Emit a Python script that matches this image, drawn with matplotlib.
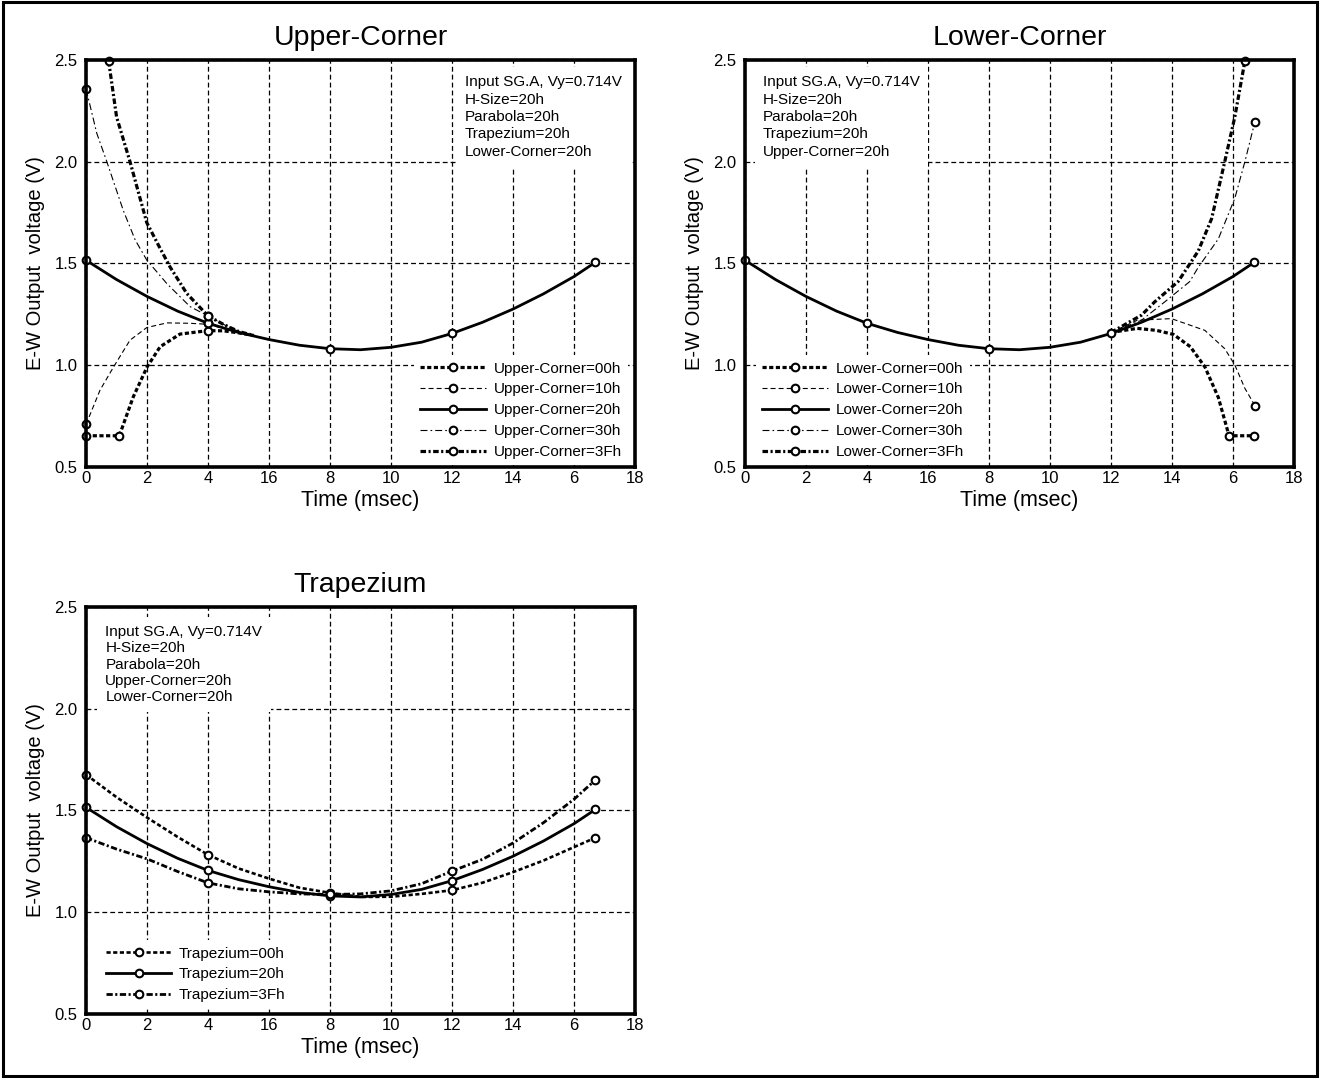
import numpy as np
import matplotlib.pyplot as plt
from matplotlib.lines import Line2D
from matplotlib.patches import Rectangle

plt.rcParams['font.family'] = ['Liberation Sans', 'DejaVu Sans']
plt.rcParams['lines.scale_dashes'] = False

# x ticks (labels as printed on the original)
xticks = [0, 2, 4, 6, 8, 10, 12, 14, 16, 18]
xticklabels = ['0', '2', '4', '16', '8', '10', '12', '14', '6', '18']
yticks = [0.5, 1.0, 1.5, 2.0, 2.5]

# shared curve: *=20h
x_20 = [0, 1, 2, 3, 4, 5, 6, 7, 8, 9, 10, 11, 12, 13, 14, 15, 16, 16.7]
v_20 = [1.515, 1.42, 1.337, 1.265, 1.205, 1.16, 1.125, 1.097, 1.08, 1.075,
        1.087, 1.112, 1.155, 1.21, 1.275, 1.35, 1.435, 1.505]
mx_20 = [0, 4, 8, 12, 16.7]
mv_20 = [1.515, 1.205, 1.08, 1.155, 1.505]

# Upper-Corner
up_x_00 = [0, 1.09, 1.3, 1.55, 2.0, 2.43, 3.08, 4, 4.5, 5.0, 5.5]
up_v_00 = [0.652, 0.652, 0.74, 0.844, 0.99, 1.09, 1.152, 1.169, 1.168, 1.158, 1.145]
up_mx_00 = [0, 1.09, 4]
up_mv_00 = [0.652, 0.652, 1.169]
up_x_10 = [0, 0.46, 0.9, 1.44, 1.99, 2.65, 3.41, 4, 4.5, 5, 5.5]
up_v_10 = [0.708, 0.877, 0.99, 1.122, 1.184, 1.207, 1.205, 1.2, 1.18, 1.16, 1.145]
up_mx_10 = [0, 4]
up_mv_10 = [0.708, 1.205]
up_x_30 = [0, 0.35, 0.68, 1.22, 1.61, 1.99, 2.65, 3.41, 4, 4.5, 5, 5.5]
up_v_30 = [2.357, 2.14, 2.0, 1.76, 1.615, 1.516, 1.40, 1.287, 1.241, 1.2, 1.165, 1.145]
up_mx_30 = [0, 4]
up_mv_30 = [2.357, 1.241]
up_x_3f = [0.74, 1.0, 1.44, 1.99, 2.37, 2.75, 3.3, 4, 4.5, 5, 5.5]
up_v_3f = [2.495, 2.22, 2.0, 1.70, 1.59, 1.483, 1.352, 1.241, 1.2, 1.165, 1.145]
up_mx_3f = [0.74, 4]
up_mv_3f = [2.495, 1.241]

# Lower-Corner
lo_x_00 = [12, 12.86, 13.5, 14.05, 14.6, 15.08, 15.52, 15.87, 16.7]
lo_v_00 = [1.16, 1.18, 1.17, 1.15, 1.09, 0.99, 0.84, 0.652, 0.652]
lo_mx_00 = [15.87, 16.7]
lo_mv_00 = [0.652, 0.652]
lo_x_10 = [12, 12.86, 13.98, 15.08, 15.73, 16.06, 16.39, 16.72]
lo_v_10 = [1.16, 1.22, 1.228, 1.17, 1.08, 1.0, 0.885, 0.80]
lo_mx_10 = [16.72]
lo_mv_10 = [0.80]
lo_x_30 = [12, 13, 13.76, 14.58, 14.86, 15.52, 16.06, 16.39, 16.72]
lo_v_30 = [1.16, 1.22, 1.31, 1.41, 1.48, 1.62, 1.82, 2.0, 2.197]
lo_mx_30 = [16.72]
lo_mv_30 = [2.197]
lo_x_3f = [12, 13, 13.43, 14.2, 14.86, 15.3, 15.73, 16.06, 16.39]
lo_v_3f = [1.16, 1.245, 1.31, 1.41, 1.56, 1.72, 2.0, 2.22, 2.495]
lo_mx_3f = [16.39]
lo_mv_3f = [2.495]

# Trapezium
tr_x = [0, 1, 2, 3, 4, 5, 6, 7, 8, 9, 10, 11, 12, 13, 14, 15, 16, 16.7]
tr_v_00 = [1.676, 1.565, 1.465, 1.37, 1.282, 1.215, 1.165, 1.12, 1.095, 1.075,
           1.076, 1.09, 1.108, 1.145, 1.197, 1.254, 1.32, 1.366]
tr_v_3f = [1.366, 1.31, 1.262, 1.2, 1.144, 1.115, 1.10, 1.09, 1.087, 1.09,
           1.105, 1.14, 1.202, 1.26, 1.34, 1.44, 1.555, 1.65]
tr_mx = [0, 4, 8, 12, 16.7]
tr_mv_00 = [1.676, 1.282, 1.095, 1.108, 1.366]
tr_mv_3f = [1.366, 1.144, 1.087, 1.202, 1.65]

info_up = 'Input SG.A, Vy=0.714V\nH-Size=20h\nParabola=20h\nTrapezium=20h\nLower-Corner=20h'
info_lo = 'Input SG.A, Vy=0.714V\nH-Size=20h\nParabola=20h\nTrapezium=20h\nUpper-Corner=20h'
info_tr = 'Input SG.A, Vy=0.714V\nH-Size=20h\nParabola=20h\nUpper-Corner=20h\nLower-Corner=20h'

# line styles
st_00 = dict(lw=2.3, dashes=(3, 1.8))
st_10 = dict(lw=0.8, dashes=(3.6, 2.2))
st_20 = dict(lw=2.0, ls='-')
st_30 = dict(lw=0.8, dashes=(5, 2.2, 1.2, 2.2))
st_3f = dict(lw=2.3, dashes=(4, 1.8, 1.5, 1.8))
tst_00 = dict(lw=1.9, dashes=(3, 1.8))
tst_3f = dict(lw=2.0, dashes=(4.5, 1.8, 1.5, 1.8))

mk = dict(marker='o', ms=5.5, mfc='white', mec='black', mew=1.5, ls='none', zorder=5)


def setup(ax, title):
    ax.set_xlim(0, 18)
    ax.set_ylim(0.5, 2.5)
    ax.set_xticks(xticks)
    ax.set_xticklabels(xticklabels)
    ax.set_yticks(yticks)
    ax.set_yticklabels(['%.1f' % y for y in yticks])
    ax.tick_params(length=0, labelsize=12)
    ax.tick_params(axis='x', pad=3)
    ax.tick_params(axis='y', pad=6)
    ax.set_axisbelow(True)
    ax.grid(True, color='black', lw=0.9, dashes=(3.5, 2.2))
    for s in ax.spines.values():
        s.set_linewidth(2.6)
        s.set_zorder(7)
    ax.set_title(title, fontsize=20.5, pad=11)
    ax.set_xlabel('Time (msec)', fontsize=15.5, labelpad=3)
    ax.set_ylabel('E-W Output  voltage (V)', fontsize=14.5, labelpad=7)


def handle(st):
    return Line2D([], [], color='black', marker='o', ms=5.5, mfc='white',
                  mec='black', mew=1.5, **st)


def draw_legend(ax, handles, labels, loc, anchor):
    leg = ax.legend(handles, labels, loc=loc, bbox_to_anchor=anchor, fontsize=11,
                    handlelength=4.3, handletextpad=0.5, labelspacing=0.45,
                    borderpad=0.4, borderaxespad=0.1, fancybox=False, framealpha=1)
    leg.get_frame().set_edgecolor('none')
    leg.set_zorder(6)


fig = plt.figure(figsize=(13.2, 10.78), dpi=100)
fig.patches.append(Rectangle((0.002, 0.002), 0.996, 0.996, transform=fig.transFigure,
                             fill=False, ec='black', lw=2.2))

# Upper-Corner
ax1 = fig.add_axes([0.0652, 0.5671, 0.4159, 0.3773])
setup(ax1, 'Upper-Corner')
ax1.plot(up_x_00, up_v_00, color='black', **st_00)
ax1.plot(up_x_10, up_v_10, color='black', **st_10)
ax1.plot(up_x_30, up_v_30, color='black', **st_30)
ax1.plot(up_x_3f, up_v_3f, color='black', **st_3f)
ax1.plot(x_20, v_20, color='black', **st_20)
for mx, mv in [(up_mx_00, up_mv_00), (up_mx_10, up_mv_10), (mx_20, mv_20),
               (up_mx_30, up_mv_30), (up_mx_3f, up_mv_3f)]:
    ax1.plot(mx, mv, clip_on=False, **mk)
ax1.text(0.69, 0.962, info_up, transform=ax1.transAxes, fontsize=11, va='top',
         linespacing=1.3, zorder=6,
         bbox=dict(facecolor='white', edgecolor='none', pad=6))
draw_legend(ax1, [handle(st_00), handle(st_10), handle(st_20), handle(st_30), handle(st_3f)],
            ['Upper-Corner=00h', 'Upper-Corner=10h', 'Upper-Corner=20h',
             'Upper-Corner=30h', 'Upper-Corner=3Fh'], 'lower right', (0.99, 0.0))

# Lower-Corner
ax2 = fig.add_axes([0.5644, 0.5671, 0.4159, 0.3773])
setup(ax2, 'Lower-Corner')
ax2.plot(lo_x_00, lo_v_00, color='black', **st_00)
ax2.plot(lo_x_10, lo_v_10, color='black', **st_10)
ax2.plot(lo_x_30, lo_v_30, color='black', **st_30)
ax2.plot(lo_x_3f, lo_v_3f, color='black', **st_3f)
ax2.plot(x_20, v_20, color='black', **st_20)
for mx, mv in [(lo_mx_00, lo_mv_00), (lo_mx_10, lo_mv_10), (mx_20, mv_20),
               (lo_mx_30, lo_mv_30), (lo_mx_3f, lo_mv_3f)]:
    ax2.plot(mx, mv, clip_on=False, **mk)
ax2.text(0.033, 0.962, info_lo, transform=ax2.transAxes, fontsize=11, va='top',
         linespacing=1.3, zorder=6,
         bbox=dict(facecolor='white', edgecolor='none', pad=6))
draw_legend(ax2, [handle(st_00), handle(st_10), handle(st_20), handle(st_30), handle(st_3f)],
            ['Lower-Corner=00h', 'Lower-Corner=10h', 'Lower-Corner=20h',
             'Lower-Corner=30h', 'Lower-Corner=3Fh'], 'lower left', (0.017, 0.0))

# Trapezium
ax3 = fig.add_axes([0.0652, 0.0594, 0.4159, 0.3776])
setup(ax3, 'Trapezium')
ax3.plot(tr_x, tr_v_00, color='black', **tst_00)
ax3.plot(tr_x, tr_v_3f, color='black', **tst_3f)
ax3.plot(x_20, v_20, color='black', **st_20)
for mx, mv in [(tr_mx, tr_mv_00), (mx_20, mv_20), (tr_mx, tr_mv_3f)]:
    ax3.plot(mx, mv, clip_on=False, **mk)
ax3.text(0.035, 0.955, info_tr, transform=ax3.transAxes, fontsize=11, va='top',
         linespacing=1.2, zorder=6,
         bbox=dict(facecolor='white', edgecolor='none', pad=6))
draw_legend(ax3, [handle(tst_00), handle(st_20), handle(tst_3f)],
            ['Trapezium=00h', 'Trapezium=20h', 'Trapezium=3Fh'], 'lower left', (0.022, 0.01))

fig.savefig('out.png', dpi=100)
